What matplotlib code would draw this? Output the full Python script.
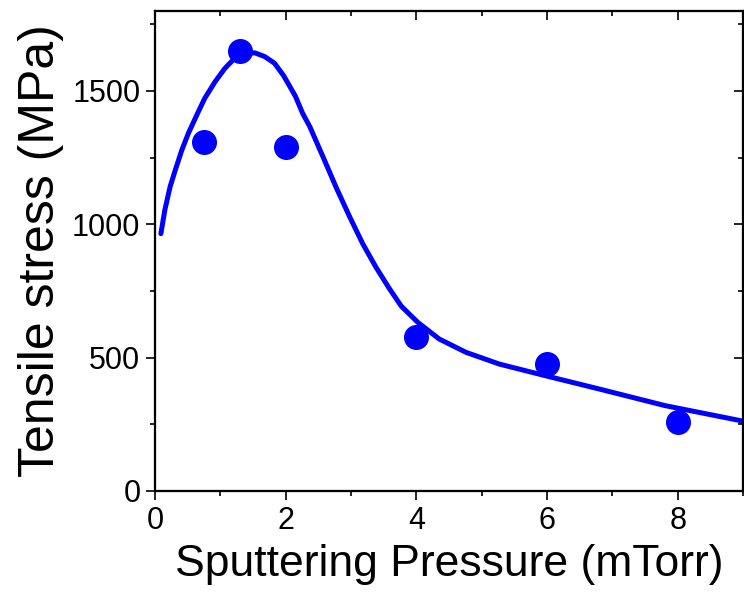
import matplotlib
matplotlib.use("Agg")
import matplotlib.pyplot as plt
from matplotlib.ticker import MultipleLocator

plt.rcParams['font.family'] = ['Liberation Sans', 'DejaVu Sans']

# measured data points
pressure = [0.75, 1.3, 2.0, 4.0, 6.0, 8.0]
stress = [1310, 1650, 1290, 579, 478, 257]

# fitted curve
curve_x = [0.09, 0.15, 0.23, 0.31, 0.41, 0.51, 0.64, 0.76, 0.92, 1.07, 1.22,
           1.37, 1.53, 1.68, 1.83, 1.97, 2.15, 2.26, 2.37, 2.57, 2.77, 2.98,
           3.18, 3.38, 3.59, 3.77, 4.02, 4.35, 4.76, 5.27, 5.98, 6.79, 7.81, 9.0]
curve_y = [965, 1053, 1140, 1203, 1278, 1341, 1410, 1472, 1535, 1585, 1623,
           1641, 1643, 1629, 1604, 1557, 1480, 1416, 1366, 1254, 1140, 1028,
           927, 840, 758, 693, 633, 570, 520, 476, 432, 383, 320, 262]

blue = '#0000FF'

fig = plt.figure(figsize=(7.44, 6.02), dpi=100)
ax = fig.add_axes([155/744, 1-491/602, (743-155)/744, 480/602])

ax.plot(curve_x, curve_y, color=blue, lw=3.6, solid_capstyle='round',
        solid_joinstyle='round', zorder=2)
ax.plot(pressure, stress, 'o', color=blue, ms=17, mec=blue, zorder=3)

ax.set_xlim(0, 9)
ax.set_ylim(0, 1800)
ax.xaxis.set_major_locator(MultipleLocator(2))
ax.xaxis.set_minor_locator(MultipleLocator(1))
ax.yaxis.set_major_locator(MultipleLocator(500))
ax.yaxis.set_minor_locator(MultipleLocator(250))

for s in ax.spines.values():
    s.set_linewidth(1.5)

ax.tick_params(which='both', bottom=True, left=True, top=False, right=False,
               direction='out', width=1.2, labelsize=22)
ax.tick_params(which='major', length=6.5, pad=4)
ax.tick_params(which='minor', length=3.5)

axt = ax.twiny()
axt.set_xlim(ax.get_xlim())
axt.xaxis.set_major_locator(MultipleLocator(2))
axt.xaxis.set_minor_locator(MultipleLocator(1))
axt.tick_params(which='both', direction='in', width=1.2, labeltop=False, top=True)
axt.tick_params(which='major', length=6.5)
axt.tick_params(which='minor', length=3.5)
axr = ax.twinx()
axr.set_ylim(ax.get_ylim())
axr.yaxis.set_major_locator(MultipleLocator(500))
axr.yaxis.set_minor_locator(MultipleLocator(250))
axr.tick_params(which='both', direction='in', width=1.2, labelright=False, right=True)
axr.tick_params(which='major', length=6.5)
axr.tick_params(which='minor', length=3.5)
for a in (axt, axr):
    for s in a.spines.values():
        s.set_linewidth(1.5)

ax.set_xlabel('Sputtering Pressure (mTorr)', fontsize=32, labelpad=6)
ax.set_ylabel('Tensile stress (MPa)', fontsize=36, labelpad=6)

fig.savefig('out.png', dpi=100)
